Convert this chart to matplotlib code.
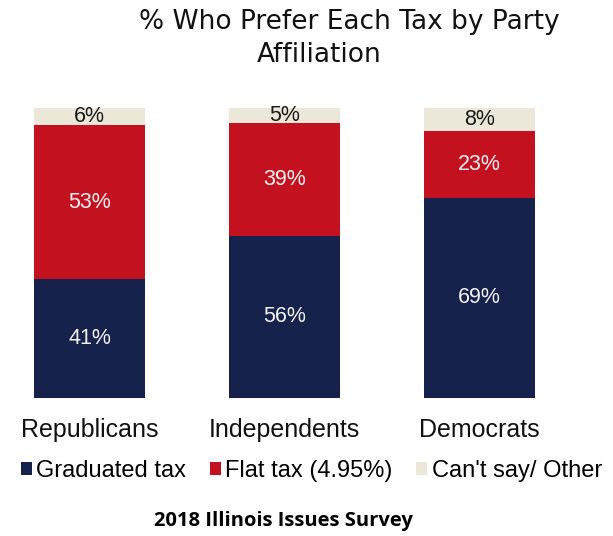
import numpy as np
import matplotlib.pyplot as plt

# party groups and share preferring each option (%)
parties = ['Republicans', 'Independents', 'Democrats']
graduated = [41, 56, 69]
flat = [53, 39, 23]
other = [6, 5, 8]

series_names = ['Graduated tax', 'Flat tax (4.95%)', "Can't say/ Other"]
colors = ['#16224c', '#c3111f', '#ebe8da']
label_colors = ['#f2f2f2', '#f2f2f2', '#1a1a1a']

fig = plt.figure(figsize=(6.13, 5.36), dpi=100)
ax = fig.add_axes([0, 1 - 398 / 536, 1, 290 / 536])

x = np.arange(len(parties))
bottom = np.zeros(len(parties))
handles = []
for vals, name, col, lcol in zip([graduated, flat, other], series_names, colors, label_colors):
    bars = ax.bar(x, vals, width=0.57, bottom=bottom, color=col, label=name)
    handles.append(bars)
    for xi, b, v in zip(x, bottom, vals):
        ax.text(xi, b + v / 2, f'{v}%', ha='center', va='center', color=lcol,
                fontsize=15.5, family='Liberation Sans')
    bottom += np.array(vals)

ax.set_xlim(-89.5 / 195, (613 - 89.5) / 195)
ax.set_ylim(0, 100)
ax.axis('off')

# category names under the bars
for xi, p in zip(x, parties):
    ax.text(xi, -11, p, ha='center', va='center', fontsize=18,
            family='Liberation Sans', color='#111111')

fig.legend(handles=handles, labels=series_names, loc='center',
           bbox_to_anchor=(0.508, 1 - 471 / 536), ncol=3, frameon=False,
           handlelength=0.45, handleheight=0.45, handletextpad=0.2,
           columnspacing=1.0, prop={'family': 'Liberation Sans', 'size': 17})

fig.text(349 / 613, 1 - 22 / 536, '% Who Prefer Each Tax by Party', ha='center',
         va='center', fontsize=19, family='DejaVu Sans', color='#111111')
fig.text(319 / 613, 1 - 55 / 536, 'Affiliation', ha='center', va='center',
         fontsize=19, family='DejaVu Sans', color='#111111')

fig.text(283 / 613, 1 - 521 / 536, '2018 Illinois Issues Survey', ha='center',
         va='center', fontsize=14.5, family='Open Sans', fontweight='bold')

fig.savefig('out.png', dpi=100)
